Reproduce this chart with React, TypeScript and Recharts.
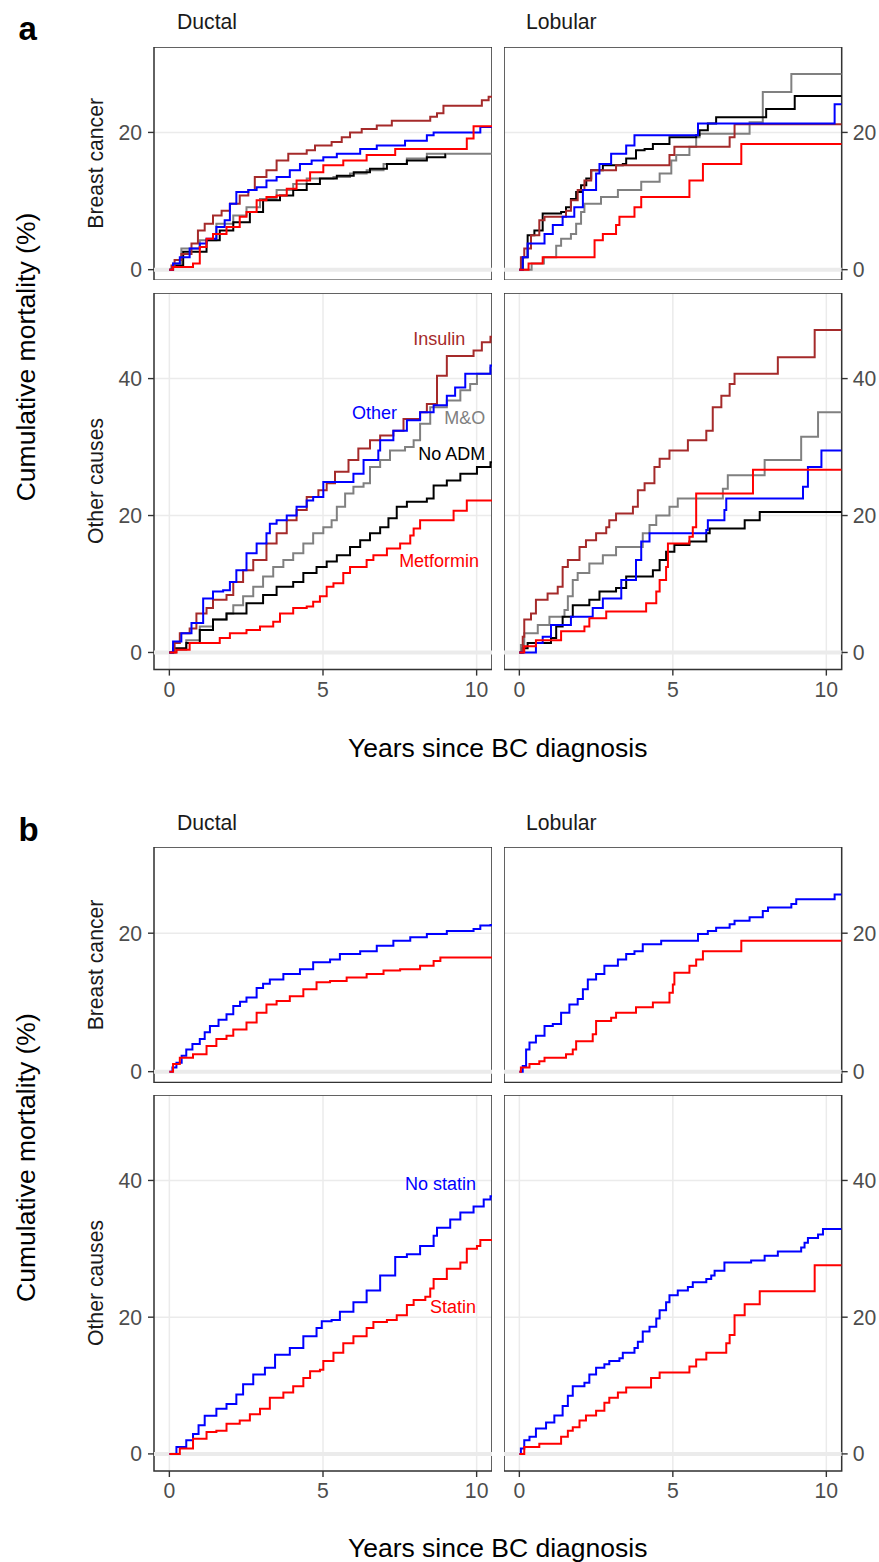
import { LineChart, Line, XAxis, YAxis, CartesianGrid, ReferenceLine, ReferenceArea, ReferenceDot } from "recharts";

type Pt = [number, number];

const BROWN = "#A52A2A";
const RED = "#FF0000";
const BLUE = "#0000FF";
const GRAY = "#808080";
const BLACK = "#000000";

const FONT = '"Liberation Sans", Arial, Helvetica, sans-serif';

const X_DOMAIN: [number, number] = [-0.5, 10.5];
const X_TICKS = [0, 5, 10];
const Y_DOMAIN_BC: [number, number] = [-1.55, 32.45];
const Y_DOMAIN_OC: [number, number] = [-2.5, 52.5];
const Y_TICKS_BC = [0, 20];
const Y_TICKS_OC = [0, 20, 40];

// ---- panel a: ductal, breast cancer
const aDucBcInsulin: Pt[] = [[0, 0], [0.07, 0.6], [0.17, 1.4], [0.39, 2.3], [0.72, 3.8], [0.93, 5.7], [1.15, 6.7], [1.42, 7.9], [1.7, 8.6], [1.97, 9.6], [2.29, 10.8], [2.57, 11.6], [2.78, 13.5], [3.16, 14.5], [3.49, 15.9], [3.87, 16.9], [4.47, 17.4], [4.74, 18.1], [5.28, 18.6], [5.61, 19.3], [5.88, 20.0], [6.26, 20.5], [6.75, 21.0], [7.24, 21.7], [8.49, 22.3], [8.71, 22.8], [8.92, 23.9], [10.17, 24.7], [10.39, 25.2], [10.5, 25.2]];
const aDucBcOther: Pt[] = [[0, 0], [0.12, 0.9], [0.34, 1.8], [0.66, 3.1], [0.99, 3.8], [1.21, 4.5], [1.53, 6.2], [1.8, 7.2], [1.97, 9.6], [2.18, 11.3], [2.57, 11.6], [2.84, 12.0], [3.16, 13.0], [3.49, 13.5], [3.92, 14.5], [4.25, 15.4], [4.63, 15.9], [5.01, 16.4], [5.45, 16.9], [6.21, 17.6], [6.75, 18.1], [7.67, 18.8], [8.38, 19.6], [8.6, 20.0], [10.12, 20.8], [10.5, 20.8]];
const aDucBcMetformin: Pt[] = [[0, 0], [0.12, 0.4], [0.77, 0.9], [0.99, 3.3], [1.21, 4.5], [1.42, 5.2], [1.86, 6.2], [2.29, 7.7], [2.51, 8.4], [2.84, 10.1], [3.16, 10.6], [3.49, 10.8], [3.82, 11.8], [4.14, 13.0], [4.58, 14.2], [5.01, 15.2], [5.66, 15.9], [6.42, 16.7], [7.35, 17.6], [9.68, 19.1], [9.9, 20.9], [10.5, 20.9]];
const aDucBcMO: Pt[] = [[0, 0], [0.12, 0.9], [0.39, 3.1], [0.99, 4.3], [1.53, 6.7], [2.08, 7.9], [2.51, 9.1], [2.95, 10.3], [3.49, 11.6], [4.03, 12.5], [4.47, 13.3], [5.34, 13.5], [5.88, 14.0], [6.42, 14.5], [6.97, 15.4], [7.73, 16.2], [8.38, 16.9], [10.5, 16.9]];
const aDucBcNoADM: Pt[] = [[0, 0], [0.12, 0.6], [0.45, 2.6], [1.21, 4.3], [1.64, 5.7], [2.08, 6.9], [2.62, 8.4], [3.05, 10.1], [3.6, 10.8], [4.03, 11.6], [4.47, 12.5], [4.9, 13.3], [5.45, 13.7], [6.0, 14.2], [6.53, 14.7], [7.08, 15.4], [7.73, 15.9], [8.38, 16.4], [8.98, 16.8], [9.0, 16.8]];

// ---- panel a: lobular, breast cancer
const aLobBcInsulin: Pt[] = [[0, 0], [0.05, 1.8], [0.16, 3.1], [0.38, 5.0], [0.65, 7.2], [0.82, 7.7], [1.52, 8.6], [1.68, 10.1], [1.9, 11.6], [2.12, 13.0], [2.34, 14.5], [3.15, 15.2], [4.89, 16.7], [5.05, 17.9], [6.85, 19.3], [7.01, 21.2], [10.5, 21.2]];
const aLobBcOther: Pt[] = [[0, 0], [0.11, 1.8], [0.27, 3.8], [0.82, 5.2], [1.09, 6.5], [1.41, 7.7], [1.79, 9.1], [2.07, 11.6], [2.5, 14.0], [2.61, 15.4], [2.99, 16.9], [3.48, 18.1], [3.75, 19.6], [5.82, 21.3], [10.27, 24.1], [10.5, 24.1]];
const aLobBcMetformin: Pt[] = [[0, 0], [0.3, 0.9], [0.76, 1.8], [2.45, 4.3], [2.72, 5.2], [3.15, 6.5], [3.26, 7.7], [3.75, 9.1], [3.97, 10.6], [5.54, 13.0], [5.98, 15.4], [7.23, 18.3], [10.5, 18.3]];
const aLobBcMO: Pt[] = [[0, 0], [0.4, 0.9], [0.8, 1.8], [1.2, 3.5], [1.36, 4.5], [1.68, 5.2], [1.85, 6.7], [2.01, 8.4], [2.12, 9.6], [2.66, 10.6], [3.21, 11.6], [3.97, 12.8], [4.57, 14.0], [4.95, 15.9], [5.11, 16.7], [5.54, 17.9], [5.76, 19.3], [5.87, 19.8], [7.5, 21.5], [7.93, 25.9], [8.86, 28.5], [10.5, 28.5]];
const aLobBcNoADM: Pt[] = [[0, 0], [0.11, 1.8], [0.27, 5.0], [0.49, 5.7], [0.76, 8.2], [1.36, 8.4], [1.52, 9.1], [1.68, 10.3], [1.85, 11.3], [2.01, 12.3], [2.18, 13.3], [2.34, 14.5], [2.72, 15.2], [3.37, 15.4], [3.48, 16.2], [3.8, 17.4], [4.08, 17.6], [4.35, 18.3], [4.89, 19.3], [5.76, 19.6], [5.87, 20.3], [6.14, 21.3], [6.41, 22.2], [8.04, 23.4], [8.97, 25.3], [10.5, 25.3]];

// ---- panel a: ductal, other causes
const aDucOcInsulin: Pt[] = [[0, 0], [0.17, 1.4], [0.34, 2.8], [0.66, 3.5], [0.88, 5.7], [1.21, 6.5], [1.42, 7.7], [1.86, 8.4], [2.08, 10.3], [2.4, 12.0], [2.73, 13.5], [3.16, 15.9], [3.49, 17.4], [3.82, 19.3], [4.14, 20.8], [4.47, 22.7], [4.85, 23.7], [5.12, 24.7], [5.39, 26.4], [5.83, 28.1], [6.15, 29.8], [6.53, 31.0], [6.86, 31.7], [7.29, 32.4], [7.62, 34.1], [8.16, 35.1], [8.38, 36.3], [8.71, 40.4], [9.03, 43.3], [9.9, 44.1], [10.17, 45.3], [10.45, 46.1], [10.5, 46.1]];
const aDucOcOther: Pt[] = [[0, 0], [0.12, 1.6], [0.39, 2.8], [0.72, 4.3], [1.1, 7.9], [1.42, 8.9], [1.75, 9.1], [1.97, 10.3], [2.18, 12.0], [2.51, 14.5], [2.84, 15.9], [3.16, 17.4], [3.27, 18.8], [3.49, 19.3], [3.82, 20.0], [4.14, 21.3], [4.47, 22.2], [4.68, 22.7], [5.01, 24.9], [5.99, 26.1], [6.32, 28.1], [6.8, 29.5], [6.86, 31.0], [7.29, 32.4], [7.73, 33.9], [8.16, 35.1], [8.6, 36.1], [9.03, 37.5], [9.3, 38.7], [9.63, 40.7], [10.45, 41.9], [10.5, 41.9]];
const aDucOcMetformin: Pt[] = [[0, 0], [0.23, 0.4], [0.66, 1.4], [1.64, 2.1], [1.97, 2.8], [2.51, 3.3], [2.95, 3.8], [3.38, 4.5], [3.6, 5.7], [4.03, 6.5], [4.47, 6.7], [4.68, 7.4], [4.9, 8.2], [5.12, 9.6], [5.34, 10.1], [5.66, 11.6], [5.88, 12.5], [6.42, 13.5], [6.64, 14.2], [7.08, 15.2], [7.51, 15.9], [7.84, 17.1], [7.95, 18.1], [8.16, 19.3], [9.25, 20.7], [9.68, 22.2], [10.5, 22.2]];
const aDucOcMO: Pt[] = [[0, 0], [0.23, 0.4], [0.55, 1.8], [0.99, 3.8], [1.42, 4.8], [1.86, 5.7], [2.08, 6.9], [2.4, 8.2], [2.73, 9.6], [3.05, 11.1], [3.38, 12.5], [3.71, 13.5], [4.03, 14.5], [4.36, 15.9], [4.68, 17.4], [5.01, 18.3], [5.28, 19.3], [5.45, 21.3], [5.72, 23.2], [5.99, 24.2], [6.32, 24.7], [6.53, 27.1], [6.86, 28.1], [7.18, 29.5], [7.67, 30.0], [7.95, 31.0], [8.16, 33.4], [8.49, 35.8], [9.03, 36.8], [9.47, 38.3], [9.79, 39.2], [10.01, 40.7], [10.45, 41.6], [10.5, 41.6]];
const aDucOcNoADM: Pt[] = [[0, 0], [0.12, 0.6], [0.55, 1.4], [0.99, 3.3], [1.42, 4.8], [1.86, 5.7], [2.51, 7.2], [3.05, 8.4], [3.49, 9.6], [4.03, 10.3], [4.36, 11.6], [4.79, 12.5], [5.12, 13.3], [5.45, 14.2], [5.88, 15.4], [6.21, 16.4], [6.53, 17.4], [6.86, 18.3], [7.13, 19.6], [7.4, 21.3], [7.73, 22.0], [8.38, 22.5], [8.6, 24.4], [9.03, 25.1], [9.47, 26.1], [10.01, 27.1], [10.45, 27.8], [10.5, 27.8]];

// ---- panel a: lobular, other causes
const aLobOcInsulin: Pt[] = [[0, 0], [0.11, 2.3], [0.16, 4.8], [0.38, 5.7], [0.54, 7.7], [0.92, 8.6], [1.25, 9.6], [1.41, 12.5], [1.58, 13.5], [1.96, 15.4], [2.17, 16.4], [2.5, 17.4], [2.83, 18.3], [2.93, 19.3], [3.15, 20.3], [3.7, 21.3], [3.86, 23.7], [4.08, 24.7], [4.4, 27.1], [4.57, 28.3], [4.89, 29.5], [5.49, 31.0], [6.09, 32.4], [6.3, 35.8], [6.58, 37.5], [6.85, 39.2], [7.01, 40.7], [8.42, 43.1], [9.62, 47.1], [10.5, 47.1]];
const aLobOcOther: Pt[] = [[0, 0], [0.54, 1.4], [0.76, 2.3], [1.03, 4.0], [1.68, 5.2], [2.39, 6.5], [2.72, 7.9], [3.32, 10.6], [3.8, 13.5], [3.97, 16.2], [4.24, 17.4], [6.09, 17.9], [6.14, 19.3], [6.68, 20.8], [6.74, 22.5], [9.24, 24.2], [9.4, 27.1], [9.84, 29.5], [10.5, 29.5]];
const aLobOcMetformin: Pt[] = [[0, 0], [0.16, 0.9], [0.54, 1.8], [1.36, 3.1], [2.12, 3.8], [2.28, 5.0], [2.83, 6.0], [4.13, 7.2], [4.46, 8.9], [4.57, 10.6], [4.78, 12.5], [4.84, 15.9], [5.54, 16.9], [5.65, 18.3], [5.76, 23.2], [7.61, 26.7], [10.5, 26.7]];
const aLobOcMO: Pt[] = [[0, 0], [0.05, 1.1], [0.16, 2.8], [0.6, 4.0], [0.98, 5.2], [1.47, 6.2], [1.58, 8.2], [1.74, 10.6], [1.9, 11.6], [2.28, 13.0], [2.72, 14.2], [3.15, 15.4], [4.02, 17.4], [4.24, 18.6], [4.46, 20.0], [4.89, 21.3], [5.16, 22.5], [6.63, 23.9], [6.79, 25.9], [7.99, 28.1], [9.18, 31.5], [9.73, 35.1], [10.5, 35.1]];
const aLobOcNoADM: Pt[] = [[0, 0], [0.11, 0.6], [0.27, 1.4], [1.03, 2.1], [1.2, 3.8], [1.41, 5.2], [1.74, 6.9], [2.28, 7.7], [2.61, 8.9], [3.15, 9.4], [3.48, 11.1], [4.35, 12.0], [4.57, 13.5], [4.78, 14.7], [5.05, 15.7], [5.54, 16.2], [6.09, 17.4], [6.2, 18.1], [7.34, 19.3], [7.83, 20.5], [10.5, 20.5]];

// ---- panel b: statin vs no statin
const bDucBcNoStatin: Pt[] = [[0, 0], [0.1, 0.6], [0.23, 1.3], [0.4, 2.3], [0.55, 3.2], [0.75, 4.0], [0.99, 4.7], [1.15, 5.7], [1.32, 6.6], [1.6, 7.5], [1.86, 8.3], [2.08, 9.5], [2.3, 10.1], [2.51, 10.7], [2.84, 12.1], [3.05, 12.7], [3.27, 13.3], [3.71, 14.1], [4.25, 14.8], [4.68, 15.8], [5.23, 16.2], [5.55, 17.0], [6.21, 17.4], [6.75, 18.2], [7.29, 18.9], [7.84, 19.4], [8.38, 19.9], [9.03, 20.3], [9.9, 20.6], [10.12, 21.1], [10.45, 21.2], [10.5, 21.2]];
const bDucBcStatin: Pt[] = [[0, 0], [0.12, 1.1], [0.34, 2.0], [0.77, 2.5], [1.21, 3.7], [1.53, 4.7], [1.86, 5.2], [2.08, 6.1], [2.51, 7.1], [2.84, 8.5], [3.16, 9.7], [3.49, 10.2], [3.92, 10.9], [4.36, 11.9], [4.79, 12.9], [5.23, 13.1], [5.77, 13.6], [6.42, 14.1], [6.97, 14.6], [7.51, 14.8], [8.16, 15.3], [8.6, 16.0], [8.82, 16.5], [10.5, 16.5]];
const bLobBcNoStatin: Pt[] = [[0, 0], [0.11, 0.8], [0.22, 3.2], [0.33, 4.2], [0.54, 5.2], [0.82, 6.6], [1.09, 6.9], [1.36, 8.5], [1.63, 9.7], [1.9, 10.5], [2.07, 11.9], [2.23, 13.3], [2.5, 14.1], [2.77, 15.3], [3.21, 16.2], [3.48, 17.0], [3.75, 17.4], [4.02, 18.4], [4.62, 18.9], [5.82, 19.9], [6.14, 20.3], [6.41, 20.8], [6.85, 21.3], [7.01, 21.8], [7.5, 22.3], [7.93, 23.2], [8.1, 23.7], [8.86, 24.2], [9.02, 24.9], [10.27, 25.6], [10.5, 25.6]];
const bLobBcStatin: Pt[] = [[0, 0], [0.05, 0.6], [0.33, 1.1], [0.65, 1.5], [0.82, 2.0], [1.52, 2.5], [1.74, 3.2], [1.85, 4.4], [2.39, 5.4], [2.5, 7.3], [2.99, 7.8], [3.15, 8.5], [3.8, 9.3], [4.35, 10.0], [4.89, 11.4], [5.0, 12.6], [5.05, 14.3], [5.54, 15.3], [5.76, 16.2], [5.98, 17.4], [7.23, 18.9], [10.5, 18.9]];
const bDucOcNoStatin: Pt[] = [[0, 0], [0.23, 1.0], [0.55, 2.0], [0.77, 2.9], [0.95, 4.2], [1.15, 5.6], [1.53, 6.6], [1.86, 7.3], [2.18, 8.7], [2.4, 10.2], [2.73, 11.6], [3.11, 12.6], [3.44, 14.5], [3.92, 15.5], [4.36, 17.2], [4.79, 18.4], [4.96, 19.4], [5.28, 19.6], [5.55, 20.8], [5.99, 22.2], [6.42, 23.9], [6.86, 26.1], [7.35, 28.8], [7.73, 29.2], [8.16, 30.4], [8.6, 31.9], [8.71, 33.1], [9.14, 34.3], [9.47, 35.3], [9.9, 36.2], [10.23, 37.2], [10.45, 37.7], [10.5, 37.7]];
const bDucOcStatin: Pt[] = [[0, 0], [0.34, 0.8], [0.77, 2.2], [1.21, 3.2], [1.53, 3.4], [1.86, 4.4], [2.29, 4.9], [2.62, 5.8], [2.95, 6.6], [3.27, 8.2], [3.71, 9.0], [4.03, 9.9], [4.36, 11.1], [4.58, 12.1], [4.9, 12.3], [5.01, 13.6], [5.34, 14.8], [5.66, 16.2], [5.99, 17.2], [6.42, 18.4], [6.64, 19.3], [7.08, 19.6], [7.4, 20.3], [7.73, 21.8], [7.95, 22.5], [8.33, 23.0], [8.49, 24.2], [8.6, 25.6], [9.03, 27.1], [9.47, 28.0], [9.68, 30.0], [10.01, 30.4], [10.12, 31.3], [10.5, 31.3]];
const bLobOcNoStatin: Pt[] = [[0, 0], [0.05, 0.8], [0.16, 2.0], [0.33, 2.5], [0.54, 3.7], [0.87, 4.6], [1.14, 5.6], [1.41, 7.0], [1.58, 8.5], [1.74, 9.9], [2.12, 10.4], [2.28, 11.6], [2.5, 12.6], [2.77, 13.1], [2.93, 13.6], [3.26, 14.0], [3.37, 14.8], [3.75, 15.5], [3.86, 16.4], [4.02, 17.9], [4.24, 18.6], [4.46, 19.8], [4.57, 21.0], [4.78, 22.2], [4.89, 23.2], [5.16, 23.9], [5.49, 24.4], [5.65, 25.1], [6.09, 25.6], [6.25, 26.1], [6.36, 26.8], [6.68, 28.0], [7.55, 28.3], [7.99, 29.0], [8.42, 29.6], [9.18, 30.2], [9.29, 30.9], [9.4, 31.6], [9.73, 32.1], [9.89, 32.9], [10.5, 32.9]];
const bLobOcStatin: Pt[] = [[0, 0], [0.16, 1.0], [0.65, 1.5], [1.36, 2.5], [1.58, 3.4], [1.74, 3.9], [1.96, 4.9], [2.17, 5.6], [2.5, 6.3], [2.77, 7.5], [2.93, 8.2], [3.21, 9.0], [3.48, 9.7], [4.29, 11.1], [4.57, 11.9], [5.54, 12.8], [5.76, 13.8], [6.09, 14.8], [6.74, 16.2], [6.85, 17.4], [7.01, 20.3], [7.34, 21.9], [7.83, 23.8], [9.62, 27.6], [10.5, 27.6]];

type Series = { color: string; points: Pt[] };
type Tag = { text: string; color: string; t: number; v: number };
type Box = { x: number; y: number; w: number; h: number };

const toRows = (pts: Pt[]) => pts.map(([t, v]) => ({ t, v }));

const tickStyle = { fill: "#4D4D4D", fontSize: 21.2, fontFamily: FONT };
const tickLine = { stroke: "#333333", strokeWidth: 1.4 };

function Facet({ box, side, bottom, series, tags = [] }: { box: Box; side: "left" | "right"; bottom: boolean; series: Series[]; tags?: Tag[] }) {
    const yW = side === "left" ? 60 : 45;
    const xH = bottom ? 40 : 0;
    const yDomain = bottom ? Y_DOMAIN_OC : Y_DOMAIN_BC;
    const left = side === "left" ? box.x - yW : box.x;
    return (
        <div style={{ position: "absolute", left, top: box.y }}>
            <LineChart width={box.w + yW} height={box.h + xH} margin={{ top: 0, right: 0, bottom: 0, left: 0 }}>
                <CartesianGrid stroke="#EBEBEB" strokeWidth={1.5} />
                <XAxis
                    type="number"
                    dataKey="t"
                    domain={X_DOMAIN}
                    ticks={X_TICKS}
                    interval={0}
                    allowDataOverflow
                    height={xH}
                    axisLine={false}
                    tick={bottom ? tickStyle : false}
                    tickLine={bottom ? tickLine : false}
                    tickSize={6}
                    tickMargin={6}
                />
                <YAxis
                    type="number"
                    domain={yDomain}
                    ticks={bottom ? Y_TICKS_OC : Y_TICKS_BC}
                    interval={0}
                    allowDataOverflow
                    orientation={side}
                    width={yW}
                    axisLine={false}
                    tick={tickStyle}
                    tickLine={tickLine}
                    tickSize={6}
                    tickMargin={side === "left" ? 6 : 5}
                />
                <ReferenceLine y={0} stroke="#EBEBEB" strokeWidth={4} />
                {series.map((s, i) => (
                    <Line
                        key={i}
                        data={toRows(s.points)}
                        dataKey="v"
                        type="stepAfter"
                        stroke={s.color}
                        strokeWidth={2}
                        dot={false}
                        activeDot={false}
                        isAnimationActive={false}
                    />
                ))}
                <ReferenceArea x1={X_DOMAIN[0]} x2={X_DOMAIN[1]} y1={yDomain[0]} y2={yDomain[1]} fill="none" stroke="#333333" strokeWidth={1.5} />
                {tags.map((g) => (
                    <ReferenceDot
                        key={g.text}
                        x={g.t}
                        y={g.v}
                        r={1}
                        shape={(p: any) => (
                            <text x={p.cx} y={p.cy} textAnchor="end" fill={g.color} fontSize={18} fontFamily={FONT}>
                                {g.text}
                            </text>
                        )}
                    />
                ))}
            </LineChart>
        </div>
    );
}

const COL_L = { x: 153.7, w: 338 };
const COL_R = { x: 504, w: 337.7 };

function Titles({ top, rowBc, rowOc, letter, titleY }: { top: number; rowBc: number; rowOc: number; letter: string; titleY: number }) {
    const strip = { fontSize: 21.2, fill: "#1A1A1A", fontFamily: FONT };
    // whole facet block spans top .. top + 622.6
    const mid = top + 310.3;
    return (
        <>
            <text x={18.5} y={top - 6.7} fontSize={33} fontWeight="bold" fontFamily={FONT} fill="#000">{letter}</text>
            <text x={177} y={top - 17.4} {...strip}>Ductal</text>
            <text x={526} y={top - 17.4} {...strip}>Lobular</text>
            <text transform={`translate(102.5,${rowBc}) rotate(-90)`} textAnchor="middle" {...strip}>Breast cancer</text>
            <text transform={`translate(102.5,${rowOc}) rotate(-90)`} textAnchor="middle" {...strip}>Other causes</text>
            <text transform={`translate(35,${mid}) rotate(-90)`} textAnchor="middle" fontSize={26.5} fill="#000" fontFamily={FONT}>Cumulative mortality (%)</text>
            <text x={497.7} y={titleY} textAnchor="middle" fontSize={26.5} fill="#000" fontFamily={FONT}>Years since BC diagnosis</text>
        </>
    );
}

export default function App() {
    const aTop = { y: 46.7, h: 233.3 };
    const aBot = { y: 292.7, h: 376.6 };
    const bTop = { y: 847.3, h: 235.4 };
    const bBot = { y: 1095, h: 376 };

    const aDucBc: Series[] = [
        { color: GRAY, points: aDucBcMO },
        { color: BLACK, points: aDucBcNoADM },
        { color: BROWN, points: aDucBcInsulin },
        { color: BLUE, points: aDucBcOther },
        { color: RED, points: aDucBcMetformin },
    ];
    const aLobBc: Series[] = [
        { color: GRAY, points: aLobBcMO },
        { color: BLACK, points: aLobBcNoADM },
        { color: BROWN, points: aLobBcInsulin },
        { color: BLUE, points: aLobBcOther },
        { color: RED, points: aLobBcMetformin },
    ];
    const aDucOc: Series[] = [
        { color: GRAY, points: aDucOcMO },
        { color: BLACK, points: aDucOcNoADM },
        { color: BROWN, points: aDucOcInsulin },
        { color: BLUE, points: aDucOcOther },
        { color: RED, points: aDucOcMetformin },
    ];
    const aLobOc: Series[] = [
        { color: GRAY, points: aLobOcMO },
        { color: BLACK, points: aLobOcNoADM },
        { color: BROWN, points: aLobOcInsulin },
        { color: BLUE, points: aLobOcOther },
        { color: RED, points: aLobOcMetformin },
    ];
    const aTags: Tag[] = [
        { text: "Insulin", color: BROWN, t: 9.63, v: 44.85 },
        { text: "Other", color: BLUE, t: 7.41, v: 34.1 },
        { text: "M&O", color: GRAY, t: 10.28, v: 33.3 },
        { text: "No ADM", color: BLACK, t: 10.28, v: 28.06 },
        { text: "Metformin", color: RED, t: 10.08, v: 12.5 },
    ];
    const bTags: Tag[] = [
        { text: "No statin", color: BLUE, t: 9.98, v: 38.6 },
        { text: "Statin", color: RED, t: 9.98, v: 20.57 },
    ];

    return (
        <div style={{ position: "absolute", left: 0, top: 0, width: 879, height: 1562, background: "#fff" }}>
            <Facet box={{ x: COL_L.x, w: COL_L.w, ...aTop }} side="left" bottom={false} series={aDucBc} />
            <Facet box={{ x: COL_R.x, w: COL_R.w, ...aTop }} side="right" bottom={false} series={aLobBc} />
            <Facet box={{ x: COL_L.x, w: COL_L.w, ...aBot }} side="left" bottom series={aDucOc} tags={aTags} />
            <Facet box={{ x: COL_R.x, w: COL_R.w, ...aBot }} side="right" bottom series={aLobOc} />

            <Facet box={{ x: COL_L.x, w: COL_L.w, ...bTop }} side="left" bottom={false} series={[{ color: BLUE, points: bDucBcNoStatin }, { color: RED, points: bDucBcStatin }]} />
            <Facet box={{ x: COL_R.x, w: COL_R.w, ...bTop }} side="right" bottom={false} series={[{ color: BLUE, points: bLobBcNoStatin }, { color: RED, points: bLobBcStatin }]} />
            <Facet box={{ x: COL_L.x, w: COL_L.w, ...bBot }} side="left" bottom series={[{ color: BLUE, points: bDucOcNoStatin }, { color: RED, points: bDucOcStatin }]} tags={bTags} />
            <Facet box={{ x: COL_R.x, w: COL_R.w, ...bBot }} side="right" bottom series={[{ color: BLUE, points: bLobOcNoStatin }, { color: RED, points: bLobOcStatin }]} />

            <svg width={879} height={1562} style={{ position: "absolute", left: 0, top: 0, pointerEvents: "none" }}>
                <Titles top={46.7} rowBc={163.3} rowOc={481} letter="a" titleY={757} />
                <Titles top={847.3} rowBc={965} rowOc={1283} letter="b" titleY={1557} />
            </svg>
        </div>
    );
}
